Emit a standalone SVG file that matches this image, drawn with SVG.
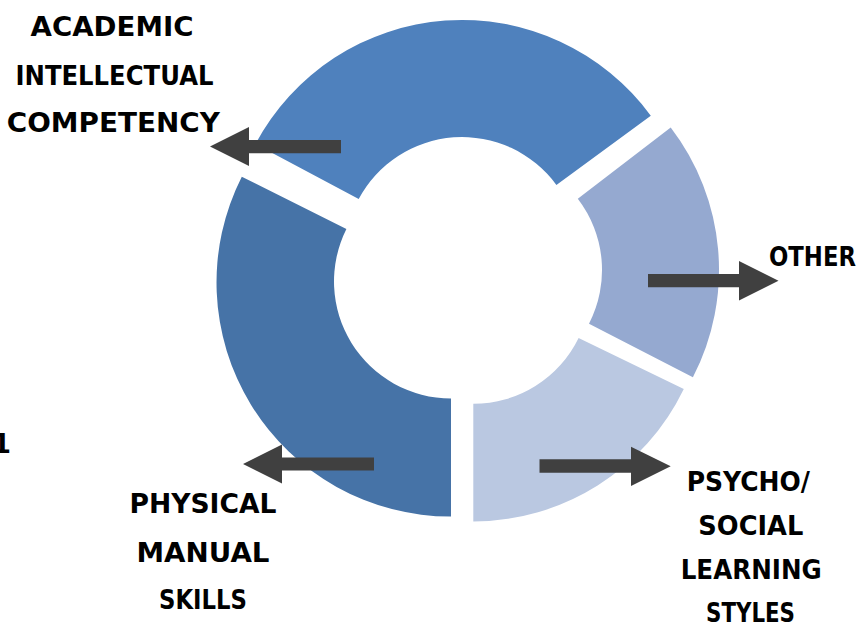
<svg xmlns="http://www.w3.org/2000/svg" width="861" height="624" viewBox="0 0 861 624">
<style>
.lbl{font-family:"DejaVu Sans","Liberation Sans",sans-serif;font-weight:bold;font-size:27px;fill:#000;text-anchor:middle}
.arrow{fill:#404040}
</style>
<rect width="861" height="624" fill="#fff"/>
<g id="seg-academic">
<path d="M255.4,144.1 A234,234 0 0 1 650.8,115.8 L556.4,184.9 A117,117 0 0 0 358.7,199.1 Z" fill="#4F81BD"/>
</g>
<g id="seg-other">
<path d="M670.7,127.5 A234,234 0 0 1 692.9,377.3 L589.0,323.7 A117,117 0 0 0 577.8,198.8 Z" fill="#95A9D0"/>
</g>
<g id="seg-psycho">
<path d="M683.8,389.0 A234,234 0 0 1 473.3,521.5 L473.3,403.8 A117,117 0 0 0 578.6,337.9 Z" fill="#BAC8E1"/>
</g>
<g id="seg-physical">
<path d="M451,516.5 A234,234 0 0 1 241.8,176.7 L346.4,229.1 A117,117 0 0 0 451,398.5 Z" fill="#4673A7"/>
</g>
<g id="connectors">
<polygon class="arrow" points="210,146.5 249,127 249,140 341,140 341,153.3 249,153.3 249,166"/>
<polygon class="arrow" points="243,464 282,444.5 282,457.5 374,457.5 374,470.5 282,470.5 282,483.5"/>
<polygon class="arrow" points="648,274 739,274 739,261 778.5,280.7 739,300.5 739,287.3 648,287.3"/>
<polygon class="arrow" points="539.5,459.3 631,459.3 631,446.7 670.7,466.3 631,486 631,472.7 539.5,472.7"/>
</g>
<g id="label-academic">
<text class="lbl" x="112" y="36" textLength="163" lengthAdjust="spacingAndGlyphs">ACADEMIC</text>
<text class="lbl" x="114.5" y="85" textLength="198" lengthAdjust="spacingAndGlyphs">INTELLECTUAL</text>
<text class="lbl" x="113.3" y="131.7" textLength="213" lengthAdjust="spacingAndGlyphs">COMPETENCY</text>
</g>
<g id="label-other">
<text class="lbl" x="812.5" y="265.7" textLength="87" lengthAdjust="spacingAndGlyphs">OTHER</text>
</g>
<g id="label-psycho">
<text class="lbl" x="748.3" y="490.7" textLength="123.3" lengthAdjust="spacingAndGlyphs">PSYCHO/</text>
<text class="lbl" x="750.8" y="535" textLength="105" lengthAdjust="spacingAndGlyphs">SOCIAL</text>
<text class="lbl" x="751.2" y="579" textLength="141" lengthAdjust="spacingAndGlyphs">LEARNING</text>
<text class="lbl" x="750.5" y="621.5" textLength="89" lengthAdjust="spacingAndGlyphs">STYLES</text>
</g>
<g id="label-physical">
<text class="lbl" x="203" y="513.3" textLength="147" lengthAdjust="spacingAndGlyphs">PHYSICAL</text>
<text class="lbl" x="203" y="561.5" textLength="133" lengthAdjust="spacingAndGlyphs">MANUAL</text>
<text class="lbl" x="203" y="609" textLength="88" lengthAdjust="spacingAndGlyphs">SKILLS</text>
</g>
<g id="label-cut">
<text class="lbl" x="11" y="453" style="text-anchor:end">1</text>
</g>
</svg>
